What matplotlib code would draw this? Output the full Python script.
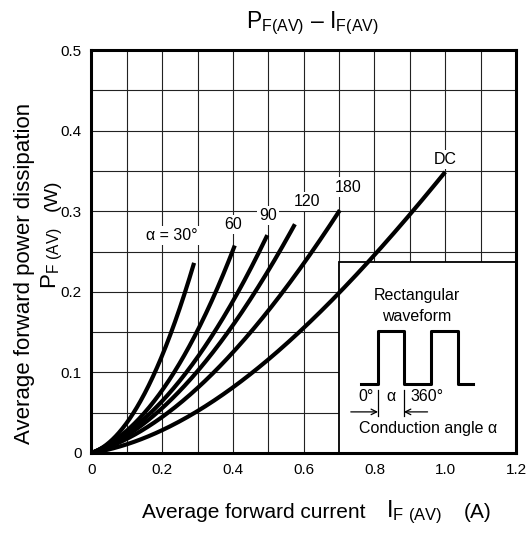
import numpy as np
import matplotlib
matplotlib.use("Agg")
import matplotlib.pyplot as plt
from matplotlib.patches import Rectangle

plt.rcParams['font.family'] = ['Liberation Sans', 'DejaVu Sans']
plt.rcParams['mathtext.fontset'] = 'custom'
plt.rcParams['mathtext.rm'] = 'Liberation Sans'

# --- courbes (I en A, P en W) ---
i_30 = [0, 0.05, 0.1, 0.15, 0.2, 0.25, 0.29]
p_30 = [0, 0.013, 0.038, 0.073, 0.122, 0.18, 0.236]

i_60 = [0, 0.05, 0.1, 0.15, 0.2, 0.25, 0.3, 0.35, 0.405]
p_60 = [0, 0.011, 0.028, 0.05, 0.078, 0.112, 0.151, 0.2, 0.257]

i_90 = [0, 0.05, 0.1, 0.15, 0.2, 0.25, 0.3, 0.35, 0.4, 0.45, 0.497]
p_90 = [0, 0.01, 0.025, 0.043, 0.064, 0.09, 0.12, 0.152, 0.188, 0.228, 0.271]

i_120 = [0, 0.05, 0.1, 0.15, 0.2, 0.25, 0.3, 0.35, 0.4, 0.45, 0.5, 0.575]
p_120 = [0, 0.009, 0.022, 0.037, 0.055, 0.077, 0.102, 0.13, 0.16, 0.191, 0.224, 0.285]

i_180 = [0, 0.05, 0.1, 0.15, 0.2, 0.25, 0.3, 0.35, 0.4, 0.45, 0.5, 0.55, 0.6, 0.65, 0.702]
p_180 = [0, 0.007, 0.017, 0.029, 0.043, 0.061, 0.081, 0.104, 0.128, 0.152, 0.176, 0.203, 0.232, 0.266, 0.304]

i_dc = [0, 0.1, 0.2, 0.3, 0.4, 0.5, 0.6, 0.7, 0.8, 0.9, 1.0]
p_dc = [0, 0.011, 0.028, 0.051, 0.082, 0.117, 0.156, 0.198, 0.245, 0.296, 0.349]

series = [(i_30, p_30), (i_60, p_60), (i_90, p_90), (i_120, p_120), (i_180, p_180), (i_dc, p_dc)]
labels = ['α = 30°', '60', '90', '120', '180', 'DC']
label_pos = [(0.228, 0.27), (0.40, 0.284), (0.50, 0.295), (0.608, 0.312), (0.725, 0.33), (1.0, 0.364)]

x_ticks = [0, 0.2, 0.4, 0.6, 0.8, 1.0, 1.2]
x_ticklabels = ['0', '0.2', '0.4', '0.6', '0.8', '1.0', '1.2']
y_ticks = [0, 0.1, 0.2, 0.3, 0.4, 0.5]
y_ticklabels = ['0', '0.1', '0.2', '0.3', '0.4', '0.5']

W, H = 529, 534
fig = plt.figure(figsize=(W / 100, H / 100), dpi=100)
ax = fig.add_axes([91.5 / W, 1 - 453 / H, (516 - 91.5) / W, (453 - 50) / H])

ax.set_xlim(0, 1.2)
ax.set_ylim(0, 0.5)
ax.set_xticks(np.arange(0, 1.21, 0.1), minor=True)
ax.set_yticks(np.arange(0, 0.51, 0.05), minor=True)
ax.set_xticks(x_ticks)
ax.set_xticklabels(x_ticklabels, fontsize=11)
ax.set_yticks(y_ticks)
ax.set_yticklabels(y_ticklabels, fontsize=11)
ax.tick_params(which='both', length=0, pad=7)
ax.grid(which='both', color='#222222', lw=0.8, zorder=0)
ax.set_axisbelow(True)
for s in ax.spines.values():
    s.set_linewidth(2.2)
    s.set_zorder(5)

# courbes : lissage des points lus (P = a*I + b*I^2 + c*I^3)
for (xs, ys) in series:
    xs = np.asarray(xs)
    ys = np.asarray(ys)
    A = np.column_stack([xs, xs**2, xs**3])
    coef = np.linalg.lstsq(A, ys, rcond=None)[0]
    xx = np.linspace(0, xs[-1], 200)
    yy = coef[0] * xx + coef[1] * xx**2 + coef[2] * xx**3
    ax.plot(xx, yy, color='black', lw=3, solid_capstyle='butt', zorder=4)

for txt, (x, y) in zip(labels, label_pos):
    ax.text(x, y, txt, fontsize=11.5, ha='center', va='center', zorder=3,
            bbox=dict(facecolor='white', edgecolor='none', pad=1.5))

# encadré forme d'onde
ax.add_patch(Rectangle((0.7, 0), 0.5, 0.237, facecolor='white', edgecolor='black',
                       lw=1.3, zorder=2))
ax.text(0.92, 0.196, 'Rectangular', fontsize=11.5, ha='center', va='center', zorder=3)
ax.text(0.92, 0.169, 'waveform', fontsize=11.5, ha='center', va='center', zorder=3)
wx = [0.763, 0.81, 0.81, 0.883, 0.883, 0.959, 0.959, 1.036, 1.036, 1.079]
wy = [0.085, 0.085, 0.151, 0.151, 0.085, 0.085, 0.151, 0.151, 0.085, 0.085]
ax.plot(wx, wy, color='black', lw=2.2, zorder=3)
ax.plot([0.81, 0.81], [0.046, 0.078], color='black', lw=0.9, zorder=3)
ax.plot([0.883, 0.883], [0.046, 0.078], color='black', lw=0.9, zorder=3)
ax.annotate('', xy=(0.81, 0.051), xytext=(0.733, 0.051), zorder=3,
            arrowprops=dict(arrowstyle='->', lw=0.9, color='black', shrinkA=0, shrinkB=0))
ax.annotate('', xy=(0.883, 0.051), xytext=(0.95, 0.051), zorder=3,
            arrowprops=dict(arrowstyle='->', lw=0.9, color='black', shrinkA=0, shrinkB=0))
ax.text(0.775, 0.07, '0°', fontsize=11.5, ha='center', va='center', zorder=3)
ax.text(0.846, 0.07, 'α', fontsize=11.5, ha='center', va='center', zorder=3)
ax.text(0.949, 0.07, '360°', fontsize=11.5, ha='center', va='center', zorder=3)
ax.text(0.951, 0.03, 'Conduction angle α', fontsize=11.5, ha='center', va='center', zorder=3)

# textes de la figure (coordonnées pixels)
def px(x, y):
    return x / W, 1 - y / H

fig.text(*px(312, 23), r'$\mathregular{P_{F(AV)}}$ – $\mathregular{I_{F(AV)}}$',
         fontsize=16.5, ha='center', va='center')
fig.text(*px(254, 512), 'Average forward current', fontsize=15, ha='center', va='center')
fig.text(*px(414, 512), r'$\mathregular{I_{F\ (AV)}}$', fontsize=17, ha='center', va='center')
fig.text(*px(478, 512), '(A)', fontsize=15, ha='center', va='center')
fig.text(*px(25, 273), 'Average forward power dissipation', fontsize=16,
         rotation=90, ha='center', va='center')
fig.text(*px(52, 258), r'$\mathregular{P_{F\ (AV)}}$', fontsize=16,
         rotation=90, ha='center', va='center')
fig.text(*px(52, 195), '(W)', fontsize=14, rotation=90, ha='center', va='center')

fig.savefig('out.png', dpi=100)
